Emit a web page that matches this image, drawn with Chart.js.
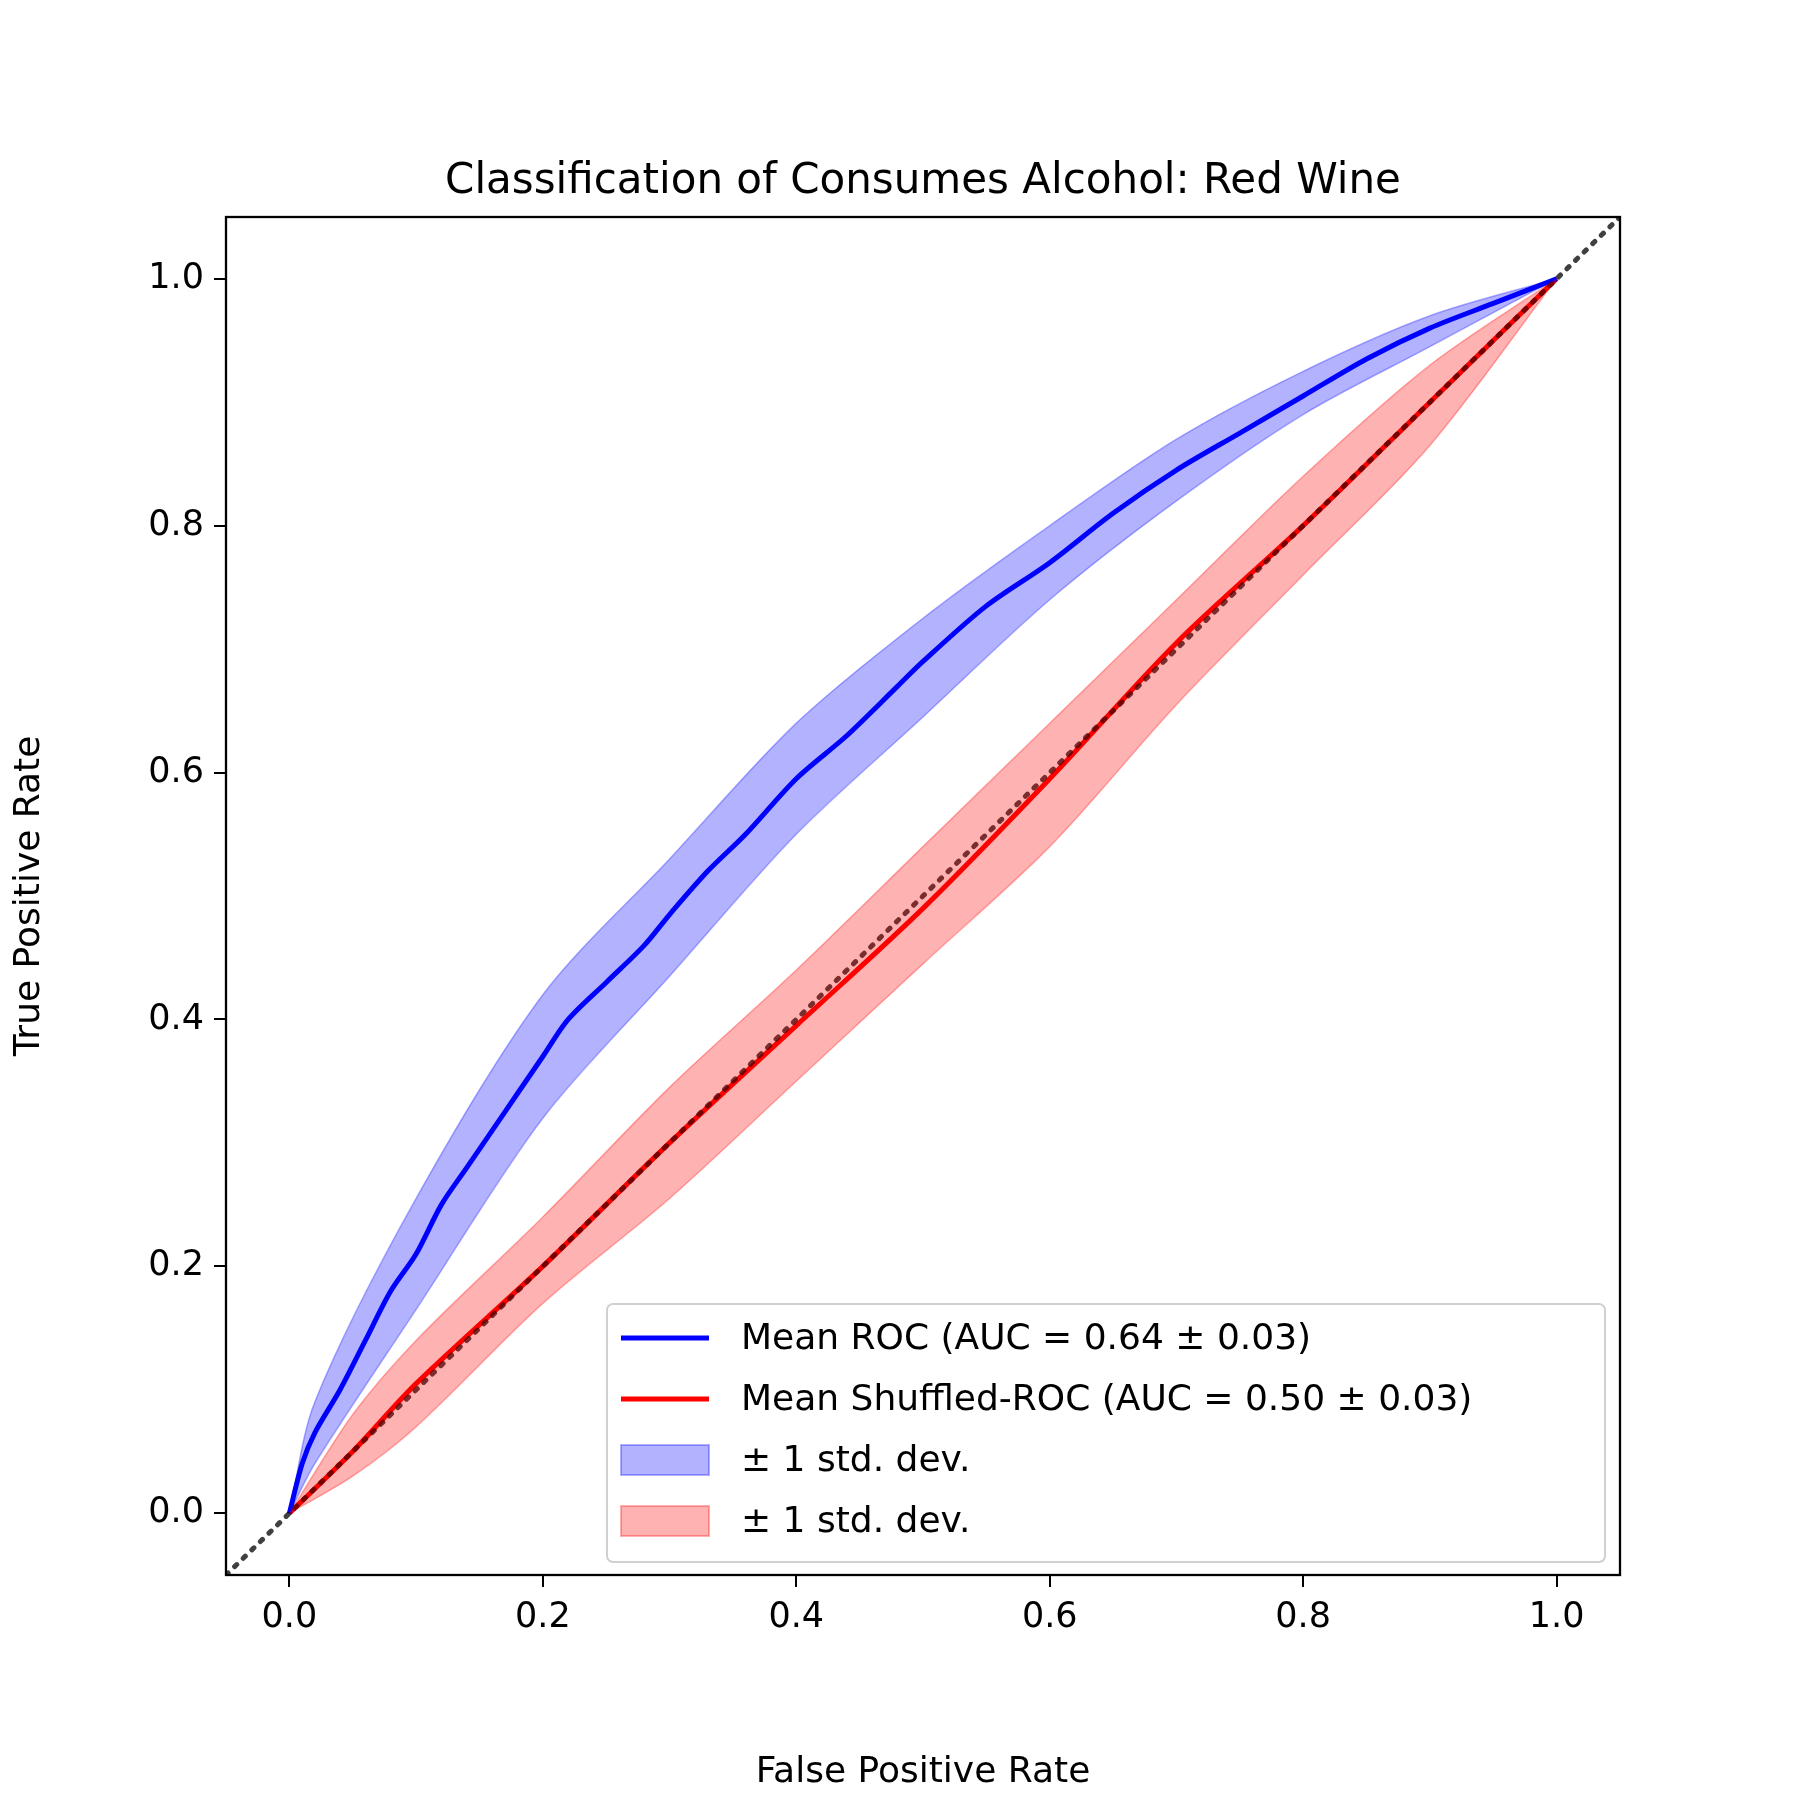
<!DOCTYPE html>
<html><head><meta charset="utf-8">
<script src="https://cdn.jsdelivr.net/npm/chart.js@4/dist/chart.umd.min.js"></script>
<style>body{margin:0;background:#fff}canvas{display:block}</style>
</head><body>
<canvas id="c" width="1800" height="1800"></canvas>
<script>
'use strict';
var rocX     = [0,0.01,0.02,0.04,0.06,0.08,0.1,0.12,0.14,0.16,0.18,0.2,0.22,0.25,0.28,0.3,0.33,0.36,0.4,0.44,0.48,0.5,0.55,0.6,0.65,0.7,0.75,0.8,0.85,0.9,0.95,1];
var rocMean  = [0,0.04,0.065,0.1,0.14,0.18,0.21,0.25,0.28,0.31,0.34,0.37,0.40,0.43,0.46,0.485,0.52,0.55,0.595,0.63,0.67,0.69,0.735,0.77,0.81,0.845,0.875,0.905,0.935,0.96,0.98,1];
var bandX    = [0,0.02,0.1,0.2,0.3,0.4,0.5,0.6,0.7,0.8,0.9,1];
var rocUp    = [0,0.09,0.255,0.42,0.53,0.64,0.725,0.80,0.87,0.925,0.97,1];
var rocLow   = [0,0.04,0.165,0.32,0.435,0.55,0.645,0.74,0.82,0.89,0.945,1];
var shufX    = [0,0.05,0.1,0.2,0.3,0.4,0.5,0.6,0.7,0.8,0.9,1];
var shufMean = [0,0.05,0.105,0.2,0.3,0.395,0.49,0.595,0.705,0.8,0.9,1];
var shufUp   = [0,0.08,0.14,0.24,0.345,0.44,0.54,0.64,0.74,0.84,0.93,1];
var shufLow  = [0,0.03,0.07,0.17,0.255,0.35,0.445,0.54,0.655,0.76,0.865,1];
var tickVals = [0,0.2,0.4,0.6,0.8,1.0];
var FONT = 'DejaVu Sans';

function pts(xs, ys){ return xs.map(function(x,i){ return {x:x, y:ys[i]}; }); }

var blueFill = 'rgba(0,0,255,0.3)', redFill = 'rgba(255,0,0,0.3)';

var frame = {
  id:'frame',
  afterDraw: function(chart){
    var c = chart.ctx, a = chart.chartArea;
    c.save();
    c.strokeStyle = '#000'; c.lineWidth = 2.3;
    c.strokeRect(a.left, a.top, a.right-a.left, a.bottom-a.top);
    c.fillStyle = '#000'; c.font = '42px ' + FONT; c.textAlign = 'center'; c.textBaseline = 'alphabetic';
    c.fillText('Classification of Consumes Alcohol: Red Wine', (a.left+a.right)/2, a.top - 24);
    // legend
    var lx = 607, ly = 1304, lw = 998, lh = 258;
    c.fillStyle = 'rgba(255,255,255,0.8)'; c.strokeStyle = '#d0d0d0'; c.lineWidth = 2;
    c.beginPath(); c.roundRect(lx, ly, lw, lh, 6); c.fill(); c.stroke();
    var items = [['line','#0000ff','Mean ROC (AUC = 0.64 \u00b1 0.03)'],
                 ['line','#ff0000','Mean Shuffled-ROC (AUC = 0.50 \u00b1 0.03)'],
                 ['box',blueFill,'\u00b1 1 std. dev.'],['box',redFill,'\u00b1 1 std. dev.']];
    c.font = '36px ' + FONT; c.textAlign = 'left'; c.textBaseline = 'middle';
    items.forEach(function(it,i){
      var y = ly + 34 + i*61;
      if (it[0]==='line'){ c.strokeStyle = it[1]; c.lineWidth = 5; c.beginPath(); c.moveTo(lx+14,y); c.lineTo(lx+102,y); c.stroke(); }
      else { c.fillStyle = it[1]; c.fillRect(lx+14,y-15,88,30); c.strokeStyle = it[1]; c.lineWidth = 2; c.strokeRect(lx+14,y-15,88,30); }
      c.fillStyle = '#000'; c.fillText(it[2], lx+134, y+2);
    });
    c.restore();
  }
};

function axis(pos, title){
  return {
    type:'linear', position:pos, min:-0.05, max:1.05,
    afterBuildTicks: function(s){ s.ticks = tickVals.map(function(v){ return {value:v}; }); },
    afterFit: function(s){ if (pos==='left') s.width = 226; else s.height = 225; },
    grid:{drawOnChartArea:false, tickLength:12, color:'#000', lineWidth:2},
    border:{color:'#000', width:2},
    ticks:{color:'#000', font:{family:FONT, size:35}, padding:10, callback:function(v){ return v.toFixed(1); }},
    title:{display:true, text:title, color:'#000', font:{family:FONT, size:36}, padding:{top:8,bottom:6}}
  };
}

new Chart(document.getElementById('c'), {
  type:'line',
  data:{ datasets:[
    {data:pts(bandX,rocUp), borderColor:blueFill, borderWidth:1.5, backgroundColor:blueFill, fill:'+1', pointRadius:0, tension:0.3},
    {data:pts(bandX,rocLow), borderColor:blueFill, borderWidth:1.5, fill:false, pointRadius:0, tension:0.3},
    {data:pts(shufX,shufUp), borderColor:redFill, borderWidth:1.5, backgroundColor:redFill, fill:'+1', pointRadius:0, tension:0.3},
    {data:pts(shufX,shufLow), borderColor:redFill, borderWidth:1.5, fill:false, pointRadius:0, tension:0.3},
    {data:pts([-0.05,1.05],[-0.05,1.05]), borderColor:'rgba(0,0,0,0.75)', borderWidth:5, borderDash:[3,9], borderCapStyle:'round', fill:false, pointRadius:0},
    {data:pts(rocX,rocMean), borderColor:'#0000ff', borderWidth:5, fill:false, pointRadius:0, tension:0.3},
    {data:pts(shufX,shufMean), borderColor:'#ff0000', borderWidth:5, fill:false, pointRadius:0, tension:0.3}
  ]},
  options:{
    responsive:false, animation:false, devicePixelRatio:1,
    layout:{padding:{top:217, right:180, left:0, bottom:0}},
    plugins:{legend:{display:false}, tooltip:{enabled:false}},
    scales:{ x:axis('bottom','False Positive Rate'), y:axis('left','True Positive Rate') }
  },
  plugins:[frame]
});
</script>
</body></html>
